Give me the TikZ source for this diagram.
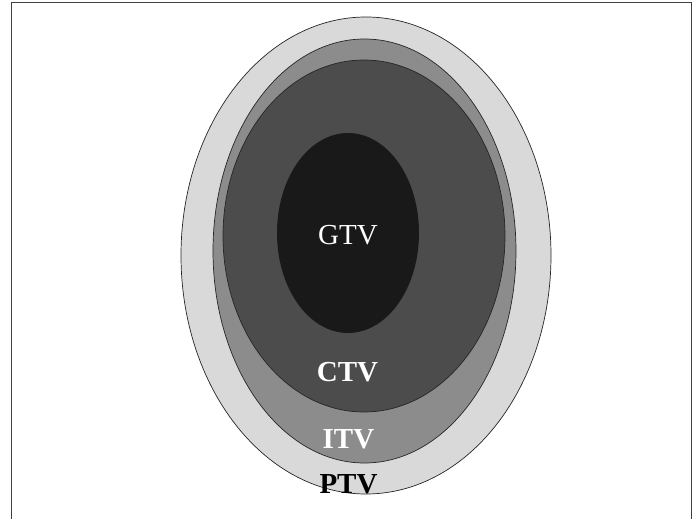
\documentclass[tikz,border=0pt]{standalone}
\usepackage{fontspec}
\setmainfont{Liberation Serif}
\usetikzlibrary{shapes.geometric}

\begin{document}
\begin{tikzpicture}[x=1pt, y=-1pt,
  zone/.style={ellipse, draw=black!85, line width=0.7pt, inner sep=0pt},
  vollabel/.style={anchor=base, inner sep=0pt, font=\fontsize{29}{29}\selectfont},
  frameline/.style={draw=black!75, line width=1pt}
]
\useasboundingbox (0,0) rectangle (697,519);

% --------- FRAME ----------
\coordinate (fbl) at (11,530);
\coordinate (ftl) at (11,3);
\coordinate (ftr) at (691,3);
\coordinate (fbr) at (691,530);
\draw[frameline] (fbl) -- (ftl) -- (ftr) -- (fbr);

% --------- VOLUMES ----------
\node[zone, fill=black!15, minimum width=370pt, minimum height=477pt] (ptv) at (366,255.5) {};
\node[zone, fill=black!45, minimum width=303pt, minimum height=424pt] (itv) at (364.5,251) {};
\node[zone, fill=black!70, minimum width=282pt, minimum height=352pt] (ctv) at (364,236) {};
\node[zone, draw=none, fill=black!90, minimum width=142pt, minimum height=200pt] (gtv) at (348,233) {};

% --------- LABELS ----------
\node[vollabel, text=white] (gtvtext) at (348,244) {GTV};
\node[vollabel, text=white, font=\fontsize{29}{29}\selectfont\bfseries] (ctvtext) at (347.5,381) {CTV};
\node[vollabel, text=white, font=\fontsize{29}{29}\selectfont\bfseries] (itvtext) at (348.5,448) {ITV};
\node[vollabel, text=black, font=\fontsize{29}{29}\selectfont\bfseries] (ptvtext) at (348.5,493) {PTV};

\end{tikzpicture}
\end{document}
